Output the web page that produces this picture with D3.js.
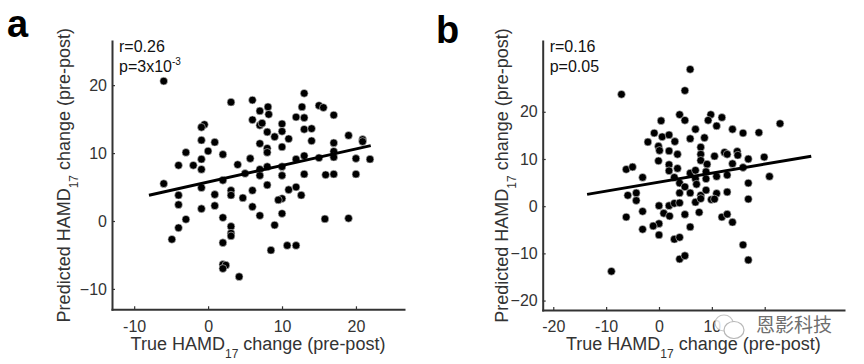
<!DOCTYPE html>
<html><head><meta charset="utf-8">
<script src="https://cdn.jsdelivr.net/npm/d3@7"></script>
<style>
body{margin:0;background:#fff;}
svg{display:block;font-family:"Liberation Sans",Arial,Helvetica,sans-serif;}
</style></head>
<body>
<svg id="chart" width="864" height="364"></svg>
<script>
// ---- Panel a data ----
const aTrue = [-6.0,3.1,6.0,7.0,-0.5,-0.9,6.0,7.0,-0.9,0.9,-3.0,0.0,2.0,-0.9,5.7,-4.0,-2.0,-0.9,4.0,5.0,7.0,7.0,-6.0,2.0,-0.9,-4.0,3.1,3.1,0.9,6.0,4.7,-4.0,-0.9,0.9,6.0,7.0,-3.0,2.0,-4.0,3.1,3.1,3.1,-4.9,2.0,2.0,2.4,2.0,4.2,
  8.1,8.2,13.0,12.7,15.0,15.6,17.0,11.9,13.0,7.3,10.0,8.0,10.0,9.0,10.9,13.0,14.0,8.0,8.0,10.0,14.0,17.0,19.0,20.9,20.9,17.0,17.0,13.0,11.9,15.0,20.0,21.9,8.0,10.0,7.0,10.0,13.0,15.9,17.0,20.0,8.0,10.9,11.9,12.6,10.0,9.5,10.0,9.0,15.8,19.0,8.5,10.7,11.9];
const aPred = [20.6,17.5,17.8,16.2,14.2,13.8,14.9,14.1,11.9,11.6,10.1,10.3,9.8,9.1,9.2,8.2,8.2,7.6,8.3,7.0,7.6,11.4,5.5,6.0,4.9,3.8,4.5,3.8,3.9,4.5,3.4,2.4,1.8,2.25,2.1,0.8,0.25,0.5,-1.0,-0.8,-1.8,-2.2,-2.7,-3.2,-6.4,-6.5,-7.0,-8.2,
  16.8,15.7,18.8,16.8,17.0,16.7,15.6,15.3,15.2,14.4,14.3,13.1,13.2,12.4,12.1,13.5,13.6,10.7,10.1,10.9,11.8,11.5,12.6,12.0,11.7,10.25,9.4,9.6,9.1,9.3,9.2,9.1,8.0,8.0,6.7,6.7,6.9,6.8,6.9,6.9,5.3,4.6,5.0,3.8,3.3,3.1,1.1,-0.6,0.3,0.4,-4.3,-3.6,-3.6];
const aFit = [[-8,3.8],[22,11.1]];
const aStats = ["r=0.26","p=3x10","-3"];
const aXTicks = [-10,0,10,20];
const aXLabels = ["-10","0","10","20"];
const aYTicks = [-10,0,10,20];

// ---- Panel b data ----
const bTrue = [-7.1,0.4,-0.9,0.6,1.9,3.0,-2.1,-0.1,0.1,1.9,-0.1,1.9,1.9,-6.2,-5.0,-3.1,2.9,-5.9,-4.3,-4.3,0.0,1.9,2.9,-3.1,0.9,2.0,-6.2,0.0,-1.1,-3.1,0.0,2.9,-9.0,
  5.9,4.9,3.9,4.9,9.8,9.3,11.9,10.9,6.9,13.9,15.9,18.9,22.9,5.9,8.6,7.9,3.5,7.9,7.9,9.1,10.5,12.4,12.9,14.8,14.9,13.9,16.9,19.9,15.9,3.5,5.9,6.9,8.9,6.9,8.9,10.9,12.9,20.9,3.9,4.9,7.1,3.9,5.9,7.9,8.9,10.9,12.9,16.9,3.9,6.9,7.9,9.9,10.5,16.9,4.9,7.6,11.9,12.9,13.9,5.9,3.9,3.9,4.9,15.9,16.9];
const bPred = [23.7,18.1,15.5,14.7,15.1,13.7,13.6,12.7,11.8,11.7,9.6,8.8,7.5,7.8,8.3,6.1,6.1,2.3,2.8,1.2,0.1,0.1,0.6,-1.1,-1.5,-2.1,-2.3,-3.7,-4.2,-4.9,-6.1,-7.0,-13.8,
  29.0,24.5,19.4,18.2,19.4,18.2,18.8,17.0,16.3,16.3,15.5,15.6,17.5,14.3,14.5,12.5,11.0,11.0,9.7,8.9,10.6,11.4,11.0,11.6,10.8,9.0,10.0,10.4,8.2,8.0,7.0,7.6,7.3,5.8,5.8,6.3,6.6,6.3,4.9,4.1,4.65,2.8,2.8,2.3,3.4,2.7,3.0,4.9,0.7,0.85,1.6,1.4,1.5,1.5,-1.75,-1.3,-2.3,-1.7,-3.4,-4.4,-6.6,-11.2,-10.5,-8.2,-11.4];
const bFit = [[-13.6,2.5],[28.8,10.6]];
const bStats = ["r=0.16","p=0.05",""];
const bXTicks = [-20,-10,0,10,20];
// the "20" label is hidden under the watermark in the reference
const bXLabels = ["-20","-10","0","10",""];
const bYTicks = [-20,-10,0,10,20];

const svg = d3.select("#chart");
const ink = "#333";

function panel(cfg){
  const g = svg.append("g");
  const x = d3.scaleLinear().domain(cfg.xDom).range([cfg.left, cfg.right]);
  const y = d3.scaleLinear().domain(cfg.yDom).range([cfg.bottom, cfg.top]);

  // points
  g.append("g").selectAll("circle").data(cfg.xs.map((v,i)=>[v,cfg.ys[i]]))
    .join("circle")
    .attr("cx", d=>x(d[0])).attr("cy", d=>y(d[1])).attr("r", 3.9)
    .attr("fill","#000").attr("stroke","#d0d0d0").attr("stroke-width",0.6);

  // fit line
  g.append("line")
    .attr("x1", x(cfg.fit[0][0])).attr("y1", y(cfg.fit[0][1]))
    .attr("x2", x(cfg.fit[1][0])).attr("y2", y(cfg.fit[1][1]))
    .attr("stroke","#000").attr("stroke-width",3);

  // axes
  const xa = g.append("g").attr("transform",`translate(0,${cfg.bottom})`)
    .call(d3.axisBottom(x).tickValues(cfg.xTicks).tickFormat((d,i)=>cfg.xLabels[i])
      .tickSizeInner(-3).tickSizeOuter(0).tickPadding(11));
  const ya = g.append("g").attr("transform",`translate(${cfg.left},0)`)
    .call(d3.axisLeft(y).tickValues(cfg.yTicks).tickSizeInner(-3).tickSizeOuter(0).tickPadding(5));
  [xa,ya].forEach(a=>{
    a.select(".domain").attr("stroke",ink).attr("stroke-width",2).attr("stroke-linecap","square");
    a.selectAll(".tick line").attr("stroke",ink).attr("stroke-width",1.2);
    a.selectAll(".tick text").attr("fill",ink).attr("font-size",16)
      .attr("font-family",'"Liberation Sans",Arial,sans-serif');
  });
  xa.selectAll(".tick text").filter(function(){return this.textContent==="";}).remove();

  // x title
  const cx = (cfg.left+cfg.right)/2;
  const xt = g.append("text").attr("x",cx).attr("y",350).attr("text-anchor","middle")
    .attr("font-size",18).attr("fill",ink);
  xt.append("tspan").text("True HAMD");
  xt.append("tspan").attr("font-size",12).attr("dy",8).text("17");
  xt.append("tspan").attr("dy",-8).text(" change (pre-post)");

  // y title
  const cy = (cfg.top+cfg.bottom)/2;
  const yt = g.append("text").attr("transform",`translate(${cfg.yTitleX},${cy}) rotate(-90)`)
    .attr("text-anchor","middle").attr("font-size",18).attr("fill",ink);
  yt.append("tspan").text("Predicted HAMD");
  yt.append("tspan").attr("font-size",12).attr("dy",8).text("17");
  yt.append("tspan").attr("dy",-8).text(" change (pre-post)");

  // stats
  g.append("text").attr("x",cfg.left+7).attr("y",52).attr("font-size",16).attr("fill","#111").text(cfg.stats[0]);
  const p = g.append("text").attr("x",cfg.left+7).attr("y",72).attr("font-size",16).attr("fill","#111");
  p.append("tspan").text(cfg.stats[1]);
  if(cfg.stats[2]) p.append("tspan").attr("font-size",10).attr("dy",-7).text(cfg.stats[2]);

  // panel letter
  g.append("text").attr("x",cfg.letterX).attr("y",cfg.letterY).attr("font-size",38)
    .attr("font-weight","bold").attr("fill","#000").text(cfg.letter);
}

panel({xs:aTrue, ys:aPred, fit:aFit, stats:aStats, xTicks:aXTicks, xLabels:aXLabels, yTicks:aYTicks,
  xDom:[-13,26.5], yDom:[-13,26.5], left:112, right:404, top:41, bottom:309.3,
  yTitleX:70, letter:"a", letterX:7, letterY:37});
panel({xs:bTrue, ys:bPred, fit:bFit, stats:bStats, xTicks:bXTicks, xLabels:bXLabels, yTicks:bYTicks,
  xDom:[-22,35], yDom:[-22,35], left:542.7, right:844, top:41, bottom:310,
  yTitleX:508, letter:"b", letterX:436, letterY:43});

// watermark
const wm = svg.append("g").attr("opacity",0.85);
wm.append("ellipse").attr("cx",724).attr("cy",323).attr("rx",9).attr("ry",8)
  .attr("fill","#fff").attr("stroke","#bbb").attr("stroke-width",1.2);
wm.append("ellipse").attr("cx",734).attr("cy",330).attr("rx",10).attr("ry",8.5)
  .attr("fill","#fff").attr("stroke","#aaa").attr("stroke-width",1.2);
wm.append("text").attr("x",756).attr("y",332).attr("font-size",19)
  .attr("font-family",'"Noto Sans CJK SC",sans-serif')
  .attr("fill","#555").attr("stroke","#fff").attr("stroke-width",0.6).attr("paint-order","stroke")
  .text("恩影科技");
</script>
</body></html>
